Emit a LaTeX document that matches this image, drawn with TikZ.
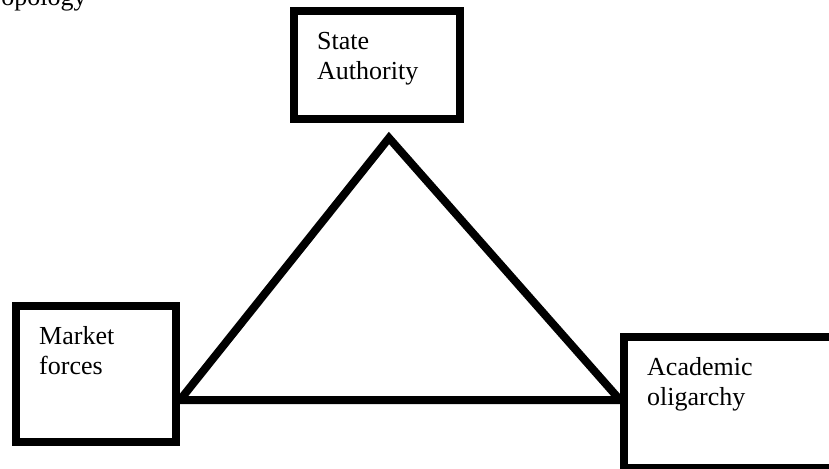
\documentclass[tikz,border=0pt]{standalone}
\usepackage{fontspec}
\setmainfont{Liberation Serif}
\begin{document}
\begin{tikzpicture}[x=1pt,y=-1pt,
  box/.style={draw=black, line width=8pt, fill=white, rectangle, inner sep=0pt},
  boxtext/.style={anchor=base west, inner sep=0pt, align=left, font=\fontsize{26}{30}\selectfont},
  tri/.style={draw=black, line width=8pt, miter limit=20}]
\useasboundingbox (0,0) rectangle (829,468);
\clip (0,0) rectangle (829,468);
\fill[white] (0,0) rectangle (829,468);
\node[boxtext] (title) at (-13,6) {Topology};
% triangle
\coordinate (L) at (180,400);
\coordinate (T) at (389,138);
\coordinate (R) at (620,400);
\draw[tri] (L) -- (T) -- (R) -- cycle;
% boxes
\node[box, minimum width=166pt, minimum height=108pt] (state) at (377,65) {};
\node[box, minimum width=160pt, minimum height=136pt] (market) at (96,374) {};
\node[box, minimum width=216.5pt, minimum height=131pt] (academic) at (731.75,402.5) {};
% labels (base anchor = baseline of last line)
\node[boxtext] (statetext) at (317,80) {State\\Authority};
\node[boxtext] (markettext) at (39,374) {Market\\forces};
\node[boxtext] (academictext) at (647,405) {Academic\\oligarchy};
\end{tikzpicture}
\end{document}
